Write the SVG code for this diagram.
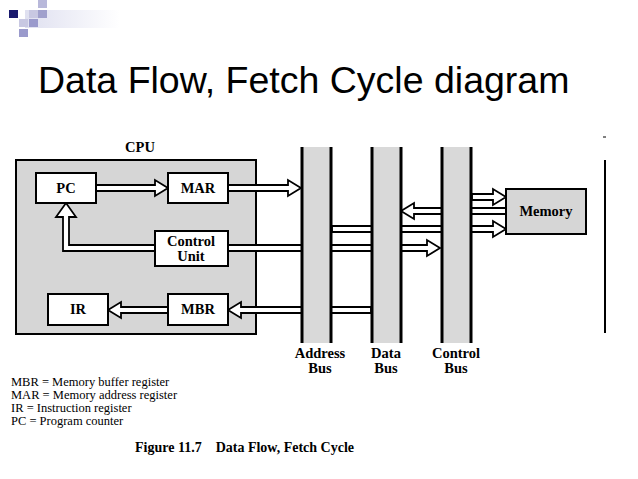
<svg xmlns="http://www.w3.org/2000/svg" width="638" height="479" viewBox="0 0 638 479">
<style>
.b{fill:#fff;stroke:#000;stroke-width:2}
.a{fill:#fff;stroke:#000;stroke-width:1.8;stroke-linejoin:miter}
.t{font-family:"Liberation Serif",serif;font-weight:bold;font-size:14.5px;text-anchor:middle}
.bus{fill:#d9d9d9}
.e{stroke:#000;stroke-width:3}
.l{font-family:"Liberation Serif",serif;font-size:12.5px}
</style>
<defs><linearGradient id="g" x1="0" x2="1"><stop offset="0" stop-color="#dfe0f0"/><stop offset="1" stop-color="#fff"/></linearGradient></defs>
<rect width="638" height="479" fill="#fff"/>
<g id="deco">
<rect x="25" y="10" width="95" height="18" fill="url(#g)"/>
<rect x="9" y="10" width="9" height="8" fill="#1a1a6e"/>
<rect x="38" y="0" width="9" height="8" fill="#b8b8da"/>
<rect x="29" y="10" width="9" height="8" fill="#c8c8e2"/>
<rect x="38" y="10" width="9" height="8" fill="#a0a0cc"/>
<rect x="19" y="19" width="9" height="8" fill="#c8c8e2"/>
<rect x="29" y="19" width="9" height="8" fill="#9a9acc"/>
<rect x="19" y="29" width="9" height="8" fill="#9a9acc"/>
</g>
<text x="38" y="93" font-family="Liberation Sans,sans-serif" font-size="37.5">Data Flow, Fetch Cycle diagram</text>
<text class="t" x="140" y="152">CPU</text>
<rect id="cpu" x="16" y="160" width="240" height="174" fill="#d6d6d6" stroke="#000" stroke-width="2"/>
<g id="connectors">
<polygon class="a" points="96,185 155,185 155,180 168,188 155,196 155,191 96,191"/>
<polygon class="a" points="228,185 288,185 288,180 301,188 288,196 288,191 228,191"/>
<polygon class="a" points="228,245 427,245 427,240 440,248 427,256 427,251 228,251"/>
<polygon class="a" points="155,245 69,245 69,217 76,217 66,203 56,217 63,217 63,251 155,251"/>
<polygon class="a" points="371,307 241,307 241,302 228,310 241,318 241,313 371,313"/>
<polygon class="a" points="168,307 121,307 121,302 108,310 121,318 121,313 168,313"/>
<polygon class="a" points="332,226 493,226 493,221 506,229 493,237 493,232 332,232"/>
<polygon class="a" points="472,194 493,194 493,189 506,197 493,205 493,200 472,200"/>
<polygon class="a" points="506,208 414,208 414,203 401,211 414,219 414,214 506,214"/>
</g>
<g id="addressBus"><rect class="bus" x="301" y="147" width="31" height="196"/><line class="e" x1="302" y1="147" x2="302" y2="343"/><line class="e" x1="331" y1="147" x2="331" y2="343"/></g>
<g id="dataBus"><rect class="bus" x="371" y="147" width="31" height="196"/><line class="e" x1="372" y1="147" x2="372" y2="343"/><line class="e" x1="401" y1="147" x2="401" y2="343"/></g>
<g id="controlBus"><rect class="bus" x="441" y="147" width="31" height="196"/><line class="e" x1="442" y1="147" x2="442" y2="343"/><line class="e" x1="471" y1="147" x2="471" y2="343"/></g>
<g id="pc"><rect class="b" x="36" y="173" width="60" height="30"/><text class="t" x="66" y="193">PC</text></g>
<g id="mar"><rect class="b" x="168" y="173" width="60" height="30"/><text class="t" x="198" y="193">MAR</text></g>
<g id="cu"><rect class="b" x="155" y="231" width="73" height="35"/><text class="t" x="191" y="246">Control</text><text class="t" x="191" y="261">Unit</text></g>
<g id="ir"><rect class="b" x="48" y="294" width="60" height="31"/><text class="t" x="78" y="314">IR</text></g>
<g id="mbr"><rect class="b" x="168" y="294" width="60" height="31"/><text class="t" x="198" y="314">MBR</text></g>
<g id="memory"><rect x="506" y="189" width="80" height="45" fill="#d6d6d6" stroke="#000" stroke-width="2"/><text class="t" x="546" y="216">Memory</text></g>
<line x1="605" y1="160" x2="605" y2="333" stroke="#000" stroke-width="2"/>
<line x1="603" y1="137" x2="606" y2="137" stroke="#000"/>
<text class="t" x="320" y="358">Address</text><text class="t" x="320" y="373">Bus</text>
<text class="t" x="386" y="358">Data</text><text class="t" x="386" y="373">Bus</text>
<text class="t" x="456" y="358">Control</text><text class="t" x="456" y="373">Bus</text>
<text class="l" x="11" y="386">MBR = Memory buffer register</text>
<text class="l" x="11" y="399">MAR = Memory address register</text>
<text class="l" x="11" y="412">IR = Instruction register</text>
<text class="l" x="11" y="425">PC = Program counter</text>
<text x="135" y="452" font-family="Liberation Serif,serif" font-weight="bold" font-size="14" xml:space="preserve">Figure 11.7    Data Flow, Fetch Cycle</text>
</svg>
